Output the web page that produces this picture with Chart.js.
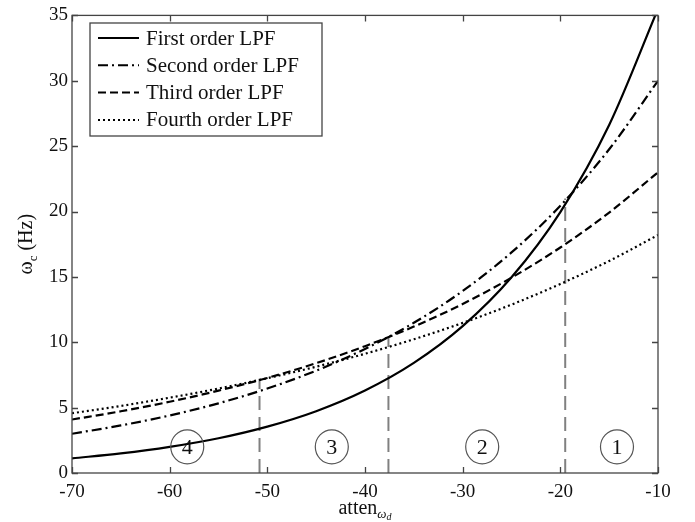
<!DOCTYPE html>
<html lang="en">
<head>
    <meta charset="UTF-8">
    <title>Cut-off frequency vs attenuation</title>
    <script src="https://cdn.jsdelivr.net/npm/chart.js"></script>
    <style>
        html, body { margin: 0; padding: 0; background: #fff; }
        canvas { display: block; }
    </style>
</head>
<body>
    <canvas id="lpfChart" width="695" height="522"></canvas>
    <script>
        // attenuation values (x axis)
        const atten = [-70, -65, -60, -55, -50, -45, -40, -35, -30, -25, -20, -15, -10];

        // cut-off frequency (Hz)
        const firstOrder  = [1.12, 1.50, 2.00, 2.66, 3.55, 4.73, 6.31, 8.42, 11.23, 14.97, 19.96, 26.62, 35.5];
        const secondOrder = [3.00, 3.64, 4.40, 5.33, 6.46, 7.83, 9.49, 11.49, 13.92, 16.87, 20.44, 24.76, 30.0];
        const thirdOrder  = [4.09, 4.72, 5.45, 6.30, 7.27, 8.40, 9.70, 11.20, 12.93, 14.94, 17.25, 19.92, 23.0];
        const fourthOrder = [4.57, 5.13, 5.76, 6.46, 7.25, 8.13, 9.12, 10.23, 11.48, 12.88, 14.46, 16.22, 18.2];

        // region boundaries (grey dashed verticals)
        const boundaryX   = [-50.8, -37.6, -19.5];
        const boundaryTop = [7.2, 10.4, 21.0];

        // circled region numbers
        const regionLabels = ['4', '3', '2', '1'];
        const regionX      = [-58.2, -43.4, -28.0, -14.2];
        const regionY      = [2.0, 2.0, 2.0, 2.0];

        const xTicks = [-70, -60, -50, -40, -30, -20, -10];
        const yTicks = [0, 5, 10, 15, 20, 25, 30, 35];

        const SERIF = '"Liberation Serif", "DejaVu Serif", serif';

        function toPoints(xs, ys) {
            return xs.map((x, i) => ({ x: x, y: ys[i] }));
        }

        const curves = [
            { label: 'First order LPF',  data: firstOrder,  dash: [] },
            { label: 'Second order LPF', data: secondOrder, dash: [10, 4, 2, 4] },
            { label: 'Third order LPF',  data: thirdOrder,  dash: [8, 4] },
            { label: 'Fourth order LPF', data: fourthOrder, dash: [2, 3] }
        ];

        const datasets = curves.map(c => ({
            label: c.label,
            data: toPoints(atten, c.data),
            borderColor: '#000',
            borderWidth: 2.2,
            borderDash: c.dash,
            pointRadius: 0,
            tension: 0.4,
            cubicInterpolationMode: 'monotone'
        }));

        boundaryX.forEach((bx, i) => {
            datasets.push({
                label: 'boundary' + i,
                data: [{ x: bx, y: 0 }, { x: bx, y: boundaryTop[i] }],
                borderColor: '#808080',
                borderWidth: 2,
                borderDash: [14, 7],
                pointRadius: 0
            });
        });

        // frame, inward ticks, legend, axis titles, circled labels
        const decorPlugin = {
            id: 'decor',
            afterDatasetsDraw(chart) {
                const ctx = chart.ctx;
                const area = chart.chartArea;
                const xs = chart.scales.x;
                const ys = chart.scales.y;

                ctx.save();
                // circled numbers
                ctx.strokeStyle = '#555';
                ctx.lineWidth = 1.2;
                ctx.fillStyle = '#111';
                ctx.font = '22px ' + SERIF;
                ctx.textAlign = 'center';
                ctx.textBaseline = 'middle';
                regionLabels.forEach((t, i) => {
                    const px = xs.getPixelForValue(regionX[i]);
                    const py = ys.getPixelForValue(regionY[i]);
                    ctx.beginPath();
                    ctx.ellipse(px, py, 16.5, 17, 0, 0, Math.PI * 2);
                    ctx.stroke();
                    ctx.fillText(t, px, py + 1);
                });

                // frame
                ctx.strokeStyle = '#444';
                ctx.lineWidth = 1.3;
                ctx.setLineDash([]);
                ctx.strokeRect(area.left, area.top, area.right - area.left, area.bottom - area.top);

                // inward ticks on all sides
                const tl = 6;
                ctx.beginPath();
                xTicks.forEach(v => {
                    const px = Math.round(xs.getPixelForValue(v)) + 0.5;
                    ctx.moveTo(px, area.bottom); ctx.lineTo(px, area.bottom - tl);
                    ctx.moveTo(px, area.top); ctx.lineTo(px, area.top + tl);
                });
                yTicks.forEach(v => {
                    const py = Math.round(ys.getPixelForValue(v)) + 0.5;
                    ctx.moveTo(area.left, py); ctx.lineTo(area.left + tl, py);
                    ctx.moveTo(area.right, py); ctx.lineTo(area.right - tl, py);
                });
                ctx.stroke();

                // legend box
                const lx = 90, ly = 23, lw = 232, lh = 113;
                ctx.fillStyle = '#fff';
                ctx.fillRect(lx, ly, lw, lh);
                ctx.strokeStyle = '#444';
                ctx.lineWidth = 1.3;
                ctx.strokeRect(lx, ly, lw, lh);
                ctx.font = '21px ' + SERIF;
                ctx.textAlign = 'left';
                ctx.textBaseline = 'middle';
                curves.forEach((c, i) => {
                    const ry = 38 + i * 27.3;
                    ctx.strokeStyle = '#000';
                    ctx.lineWidth = 2;
                    ctx.setLineDash(c.dash);
                    ctx.beginPath();
                    ctx.moveTo(98, ry);
                    ctx.lineTo(139, ry);
                    ctx.stroke();
                    ctx.setLineDash([]);
                    ctx.fillStyle = '#111';
                    ctx.fillText(c.label, 146, ry + 1);
                });

                // x axis title: atten with subscript omega_d
                ctx.fillStyle = '#111';
                ctx.textBaseline = 'alphabetic';
                ctx.textAlign = 'left';
                const main = 'atten';
                ctx.font = '20px ' + SERIF;
                const mw = ctx.measureText(main).width;
                ctx.font = 'italic 13px ' + SERIF;
                const sw1 = ctx.measureText('\u03c9').width;
                ctx.font = 'italic 10px ' + SERIF;
                const sw2 = ctx.measureText('d').width;
                const total = mw + sw1 + sw2;
                let tx = (area.left + area.right) / 2 - total / 2;
                const tyBase = 514;
                ctx.font = '20px ' + SERIF;
                ctx.fillText(main, tx, tyBase);
                tx += mw;
                ctx.font = 'italic 13px ' + SERIF;
                ctx.fillText('\u03c9', tx, tyBase + 4);
                tx += sw1;
                ctx.font = 'italic 10px ' + SERIF;
                ctx.fillText('d', tx, tyBase + 6);

                // y axis title: omega_c (Hz), rotated
                ctx.save();
                ctx.translate(32, (area.top + area.bottom) / 2);
                ctx.rotate(-Math.PI / 2);
                ctx.font = '20px ' + SERIF;
                const w1 = ctx.measureText('\u03c9').width;
                ctx.font = '13px ' + SERIF;
                const w2 = ctx.measureText('c').width;
                ctx.font = '20px ' + SERIF;
                const w3 = ctx.measureText(' (Hz)').width;
                let yx = -(w1 + w2 + w3) / 2;
                ctx.fillText('\u03c9', yx, 0);
                yx += w1;
                ctx.font = '13px ' + SERIF;
                ctx.fillText('c', yx, 5);
                yx += w2;
                ctx.font = '20px ' + SERIF;
                ctx.fillText(' (Hz)', yx, 0);
                ctx.restore();

                ctx.restore();
            }
        };

        const chart = new Chart(document.getElementById('lpfChart').getContext('2d'), {
            type: 'line',
            data: { datasets: datasets },
            options: {
                responsive: false,
                animation: false,
                devicePixelRatio: 1,
                layout: { padding: { left: 30, top: 10, right: 37, bottom: 0 } },
                plugins: {
                    legend: { display: false },
                    tooltip: { enabled: false }
                },
                scales: {
                    x: {
                        type: 'linear',
                        min: -70,
                        max: -10,
                        afterBuildTicks: s => { s.ticks = xTicks.map(v => ({ value: v })); },
                        ticks: {
                            color: '#111',
                            font: { family: SERIF, size: 19 },
                            padding: 8,
                            maxRotation: 0
                        },
                        grid: { display: false, drawTicks: false },
                        border: { display: false },
                        afterFit: s => { s.height = 49; }
                    },
                    y: {
                        min: 0,
                        max: 35,
                        afterBuildTicks: s => { s.ticks = yTicks.map(v => ({ value: v })); },
                        ticks: {
                            color: '#111',
                            font: { family: SERIF, size: 19 },
                            padding: 4
                        },
                        grid: { display: false, drawTicks: false },
                        border: { display: false },
                        afterFit: s => { s.width = 42; }
                    }
                }
            },
            plugins: [decorPlugin]
        });
    </script>
</body>
</html>
